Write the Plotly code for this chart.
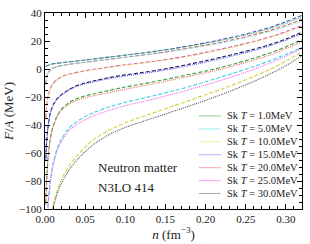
import plotly.graph_objects as go

# densities (fm^-3)
n = [0.001, 0.002, 0.004, 0.006, 0.008, 0.01, 0.015, 0.02, 0.03, 0.04, 0.05, 0.06,
     0.08, 0.10, 0.12, 0.14, 0.16, 0.18, 0.20, 0.22, 0.24, 0.26, 0.28, 0.30, 0.32]

temps = [1.0, 5.0, 10.0, 15.0, 20.0, 25.0, 30.0]

# N3LO 414 (dashed)
n3lo_T1 = [1.7, 2.2, 2.7, 3.1, 3.4, 3.7, 4.1, 4.5, 5.1, 5.7, 6.4, 7.1, 8.5, 9.9, 11.3, 12.9, 14.7, 16.6, 18.7, 21.0, 23.6, 26.5, 29.7, 33.8, 38.4]
n3lo_T5 = [-11.0, -6.0, -2.5, -0.9, 0.0, 0.7, 1.7, 2.4, 3.3, 4.1, 4.8, 5.5, 6.9, 8.4, 9.8, 11.4, 13.1, 15.0, 17.0, 19.2, 21.7, 24.5, 27.5, 31.1, 35.5]
n3lo_T10 = [-35.0, -26.0, -19.0, -15.0, -12.4, -10.3, -7.6, -5.7, -3.6, -2.4, -1.3, -0.3, 1.4, 3.0, 4.4, 5.9, 7.6, 9.6, 11.9, 14.3, 16.9, 19.7, 22.9, 26.6, 31.2]
n3lo_T15 = [-64.0, -52.0, -40.0, -33.0, -28.8, -25.8, -21.2, -18.5, -14.6, -11.8, -10.0, -8.6, -6.1, -4.2, -2.6, -0.9, 1.2, 3.5, 5.9, 8.5, 11.2, 14.1, 17.4, 21.4, 26.4]
n3lo_T20 = [-96.0, -80.0, -62.0, -52.0, -45.5, -41.0, -33.5, -29.0, -24.0, -21.0, -19.2, -17.8, -15.3, -12.9, -10.8, -8.6, -6.3, -3.9, -1.5, 1.2, 4.3, 7.7, 11.4, 15.8, 20.9]
n3lo_T25 = [-133.0, -115.0, -95.0, -83.0, -74.0, -67.5, -57.0, -50.5, -42.0, -37.4, -34.0, -31.2, -27.1, -23.8, -21.2, -18.4, -15.6, -12.5, -9.1, -5.6, -2.1, 1.8, 5.8, 10.4, 15.4]
n3lo_T30 = [-170.0, -150.0, -128.0, -114.0, -104.0, -97.0, -87.0, -79.5, -69.0, -61.9, -55.8, -50.6, -43.6, -38.4, -34.3, -30.4, -26.4, -22.4, -18.4, -14.3, -10.0, -5.4, -0.3, 5.6, 12.2]

# Skyrme (dotted)
sk_T1 = [1.7, 2.2, 2.7, 3.1, 3.4, 3.7, 4.1, 4.5, 5.1, 5.7, 6.4, 7.1, 8.5, 9.9, 11.3, 12.8, 14.5, 16.3, 18.3, 20.5, 23.0, 25.8, 28.9, 32.6, 37.0]
sk_T5 = [-11.0, -6.0, -2.5, -0.9, 0.0, 0.7, 1.7, 2.4, 3.3, 4.1, 4.8, 5.5, 6.9, 8.3, 9.7, 11.2, 12.9, 14.7, 16.6, 18.7, 21.1, 23.8, 26.8, 30.3, 34.3]
sk_T10 = [-35.0, -26.0, -19.0, -15.0, -12.4, -10.3, -7.6, -5.7, -3.7, -2.5, -1.5, -0.5, 1.2, 2.7, 4.1, 5.6, 7.3, 9.2, 11.4, 13.8, 16.4, 19.3, 22.5, 26.1, 30.3]
sk_T15 = [-65.0, -52.0, -40.0, -33.0, -28.9, -26.0, -21.5, -18.8, -15.0, -12.3, -10.6, -9.3, -6.9, -5.0, -3.4, -1.7, 0.3, 2.5, 4.9, 7.5, 10.2, 13.2, 16.6, 20.6, 25.4]
sk_T20 = [-97.0, -80.5, -62.5, -52.5, -46.0, -41.5, -34.2, -29.8, -25.0, -22.2, -20.5, -19.2, -16.8, -14.4, -12.2, -10.0, -7.6, -5.2, -2.7, 0.0, 3.0, 6.3, 10.1, 14.5, 19.6]
sk_T25 = [-135.0, -116.0, -96.0, -84.0, -75.2, -68.8, -58.5, -52.2, -43.8, -39.4, -36.2, -33.5, -29.5, -26.2, -23.5, -20.7, -17.8, -14.7, -11.4, -7.9, -4.2, -0.2, 4.2, 9.2, 14.6]
sk_T30 = [-172.0, -152.0, -130.5, -116.5, -106.5, -99.5, -89.5, -82.2, -72.0, -64.8, -59.0, -54.0, -46.8, -41.7, -37.8, -34.0, -30.2, -26.4, -22.4, -18.2, -13.7, -8.9, -3.6, 2.4, 9.6]

n3lo_series = [n3lo_T1, n3lo_T5, n3lo_T10, n3lo_T15, n3lo_T20, n3lo_T25, n3lo_T30]
sk_series = [sk_T1, sk_T5, sk_T10, sk_T15, sk_T20, sk_T25, sk_T30]

n3lo_colors = ["#3a5ad8", "#e8605a", "#d848d0", "#1c1c5a", "#3f9f3f", "#3fd0e0", "#d4d038"]
sk_colors = ["#55b055", "#66e0e8", "#e6e040", "#5a5af0", "#f46a6a", "#f25cf2", "#555555"]

FONT = "Liberation Serif"

fig = go.Figure()
for i, T in enumerate(temps):
    fig.add_trace(go.Scatter(
        x=n, y=n3lo_series[i], mode="lines", showlegend=False,
        line=dict(color=n3lo_colors[i], width=1.1, dash="4px,2px", shape="spline", smoothing=0.6),
        name=f"N3LO T={T}"))
for i, T in enumerate(temps):
    fig.add_trace(go.Scatter(
        x=n, y=sk_series[i], mode="lines", showlegend=False,
        line=dict(color=sk_colors[i], width=1.1, dash="1px,1px", shape="spline", smoothing=0.6),
        name=f"Sk T={T}"))

# legend drawn as text + sample lines (compact spacing like the original)
L, R, T_, B = 45, 7, 9, 35
W, H = 310, 244
pw, ph = W - L - R, H - T_ - B
shapes = []
annotations = []
for i, T in enumerate(temps):
    py = 114 + 13.2 * i
    yp = (H - B - py) / ph
    shapes.append(dict(type="line", xref="paper", yref="paper",
                       x0=(200 - L) / pw, x1=(221 - L) / pw, y0=yp, y1=yp,
                       line=dict(color=sk_colors[i], width=1.1, dash="1px,1px")))
    annotations.append(dict(xref="paper", yref="paper", x=(226 - L) / pw, y=yp,
                            xanchor="left", yanchor="middle", showarrow=False,
                            text=f"Sk <i>T</i> = {T:.1f}MeV",
                            font=dict(family=FONT, size=10.5, color="#222")))

annotations.append(dict(xref="x", yref="y", x=0.064, y=-70.0, xanchor="left", yanchor="middle",
                        showarrow=False, text="Neutron matter",
                        font=dict(family=FONT, size=13, color="#222")))
annotations.append(dict(xref="x", yref="y", x=0.064, y=-84.7, xanchor="left", yanchor="middle",
                        showarrow=False, text="N3LO 414",
                        font=dict(family=FONT, size=13, color="#222")))

axis_common = dict(showgrid=False, zeroline=False, showline=True, linecolor="black", linewidth=1,
                   ticks="inside", ticklen=5, tickwidth=1, tickcolor="black", mirror="allticks",
                   tickfont=dict(family=FONT, size=11, color="#222"))

fig.update_layout(
    width=W, height=H, margin=dict(l=L, r=R, t=T_, b=B),
    paper_bgcolor="white", plot_bgcolor="white",
    showlegend=False,
    shapes=shapes, annotations=annotations,
    xaxis=dict(range=[0, 0.32], tickvals=[0, 0.05, 0.10, 0.15, 0.20, 0.25, 0.30], tickformat=".2f",
               minor=dict(dtick=0.01, tick0=0, ticks="inside", ticklen=3, tickcolor="black"),
               title=dict(text="<i>n</i> (fm<sup>−3</sup>)", font=dict(family=FONT, size=13, color="#222"),
                          standoff=2),
               **axis_common),
    yaxis=dict(range=[-100, 40], tick0=-100, dtick=20,
               minor=dict(dtick=5, tick0=0, ticks="inside", ticklen=3, tickcolor="black"),
               title=dict(text="<i>F</i>/<i>A</i> (MeV)", font=dict(family=FONT, size=13, color="#222"),
                          standoff=2),
               **axis_common),
)

fig.write_html("out.html", config={"displayModeBar": False},
               post_script="document.body.style.margin='0';")
